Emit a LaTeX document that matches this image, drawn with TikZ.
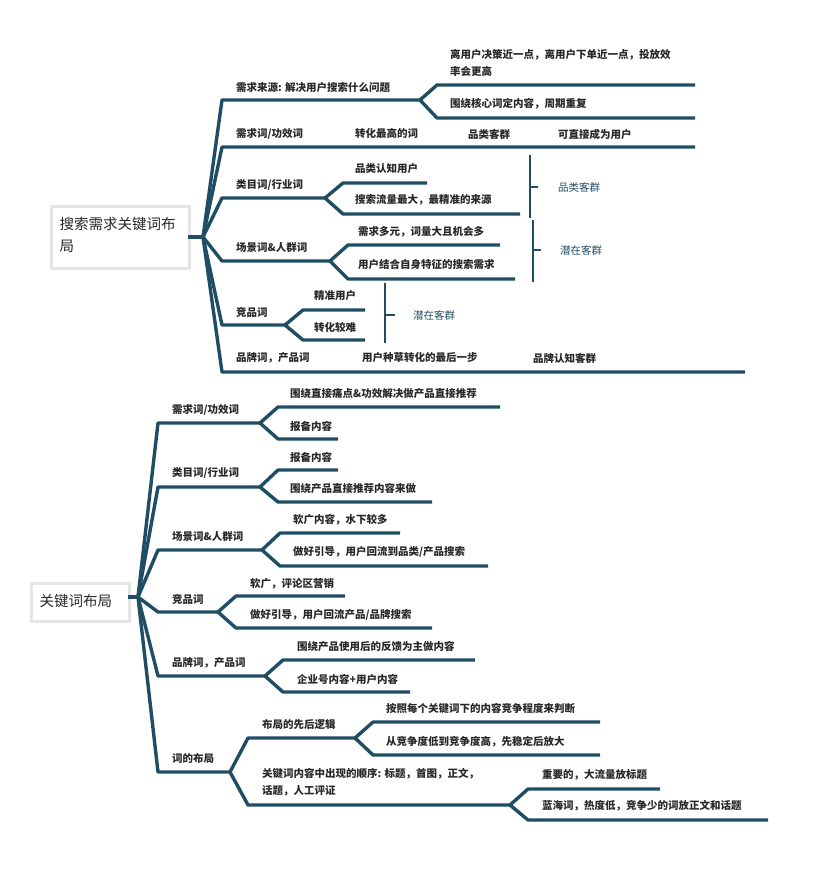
\documentclass[tikz,border=0pt]{standalone}
\usepackage{fontspec}
\setmainfont{Noto Sans CJK SC}
\definecolor{ln}{RGB}{31,77,99}
\definecolor{tx}{RGB}{40,40,40}
\tikzset{ln/.style={draw=ln,line width=3.4pt,line join=round},
 lb/.style={anchor=west,inner sep=0pt,font=\fontsize{10.5}{12}\selectfont\bfseries,text=tx},
 lg/.style={anchor=west,inner sep=0pt,font=\fontsize{10.5}{12}\selectfont,text=ln},
 br/.style={draw=ln,line width=1.6pt},
 rootbox/.style={draw=black!10,line width=3pt,fill=white,anchor=north west,inner sep=0pt}}
\newcommand\cn[6]{\draw[ln] (#1,#2) -- (#3,#2+#4) -- (#3,#5) -- (#6,#5);}
\newcommand\mb[5]{\draw[ln] (#1,#2) -- (#3,#4) -- (#5,#4);}
\begin{document}
\begin{tikzpicture}[x=1pt,y=-1pt]
\useasboundingbox (0,0) rectangle (814,869);
% ---------- top map ----------
\node[rootbox,minimum width=138pt,minimum height=62pt] (r1) at (50,205) {};
\node[anchor=north west,align=left,font=\fontsize{14.5}{22}\selectfont,text=tx] (r1t) at (56,214) {搜索需求关键词布\\局};
\draw[ln] (188,237) -- (203,237);
\mb{203}{237}{222}{100}{420}
\mb{203}{237}{222}{147}{695}
\mb{203}{237}{222}{198}{325}
\mb{203}{237}{222}{261}{330}
\mb{203}{237}{222}{325}{285}
\mb{203}{237}{222}{372}{745}
\node[lb] (a1) at (236,88) {需求来源: 解决用户搜索什么问题};
\cn{420}{100}{437}{-15}{85}{695}
\cn{420}{100}{437}{18}{118}{695}
\node[lb,align=left,font=\fontsize{10.5}{17}\selectfont\bfseries] (a11) at (450,63) {离用户决策近一点，离用户下单近一点，投放效\\率会更高};
\node[lb] (a12) at (450,104) {围绕核心词定内容，周期重复};
\node[lb] (a2) at (236,134) {需求词/功效词};
\node[lb] (a2b) at (355,134) {转化最高的词};
\node[lb] (a2c) at (468,134) {品类客群};
\node[lb] (a2d) at (558,134) {可直接成为用户};
\node[lb] (a3) at (236,185) {类目词/行业词};
\cn{325}{198}{343}{-15}{183}{427}
\cn{325}{198}{343}{16}{214}{520}
\node[lb] (a31) at (355,169) {品类认知用户};
\node[lb] (a32) at (355,200) {搜索流量最大，最精准的来源};
\draw[br] (530,155) -- (530,218); \draw[br] (530,187) -- (538,187);
\node[lg] (g1) at (558,187) {品类客群};
\node[lb] (a4) at (236,248) {场景词\&人群词};
\cn{330}{261}{348}{-16}{245}{500}
\cn{330}{261}{348}{18}{279}{515}
\node[lb] (a41) at (358,232) {需求多元，词量大且机会多};
\node[lb] (a42) at (358,265) {用户结合自身特征的搜索需求};
\draw[br] (533,220) -- (533,282); \draw[br] (533,250) -- (541,250);
\node[lg] (g2) at (560,250) {潜在客群};
\node[lb] (a5) at (236,312) {竞品词};
\cn{285}{325}{303}{-15}{310}{365}
\cn{285}{325}{303}{15}{340}{365}
\node[lb] (a51) at (314,296) {精准用户};
\node[lb] (a52) at (314,327) {转化较难};
\draw[br] (385,283) -- (385,343); \draw[br] (385,315) -- (395,315);
\node[lg] (g3) at (413,315) {潜在客群};
\node[lb] (a6) at (236,358) {品牌词，产品词};
\node[lb] (a6b) at (362,358) {用户种草转化的最后一步};
\node[lb] (a6c) at (533,358) {品牌认知客群};
% ---------- bottom map ----------
\node[rootbox,minimum width=98pt,minimum height=38pt] (r2) at (30,582) {};
\node[anchor=west,font=\fontsize{14.5}{18}\selectfont,text=tx] (r2t) at (36,601) {关键词布局};
\draw[ln] (128,597) -- (138,597);
\mb{138}{597}{158}{423}{260}
\mb{138}{597}{158}{487}{260}
\mb{138}{597}{158}{550}{262}
\mb{138}{597}{158}{612}{218}
\mb{138}{597}{158}{676}{265}
\mb{138}{597}{158}{772}{230}
\node[lb] (b1) at (172,410) {需求词/功效词};
\cn{260}{423}{278}{-16}{407}{500}
\cn{260}{423}{278}{16}{439}{338}
\node[lb] (b11) at (290,394) {围绕直接痛点\&功效解决做产品直接推荐};
\node[lb] (b12) at (290,426) {报备内容};
\node[lb] (b2) at (172,473) {类目词/行业词};
\cn{260}{487}{278}{-17}{470}{338}
\cn{260}{487}{278}{15}{502}{432}
\node[lb] (b21) at (290,457) {报备内容};
\node[lb] (b22) at (290,489) {围绕产品直接推荐内容来做};
\node[lb] (b3) at (172,536) {场景词\&人群词};
\cn{262}{550}{280}{-17}{533}{400}
\cn{262}{550}{280}{16}{566}{488}
\node[lb] (b31) at (293,520) {软广内容，水下较多};
\node[lb] (b32) at (293,552) {做好引导，用户回流到品类/产品搜索};
\node[lb] (b4) at (172,599) {竞品词};
\cn{218}{612}{236}{-16}{596}{345}
\cn{218}{612}{236}{16}{628}{432}
\node[lb] (b41) at (250,584) {软广，评论区营销};
\node[lb] (b42) at (250,615) {做好引导，用户回流产品/品牌搜索};
\node[lb] (b5) at (172,663) {品牌词，产品词};
\cn{265}{676}{283}{-16}{660}{475}
\cn{265}{676}{283}{16}{692}{410}
\node[lb] (b51) at (297,647) {围绕产品使用后的反馈为主做内容};
\node[lb] (b52) at (297,679) {企业号内容+用户内容};
\node[lb] (b6) at (172,758) {词的布局};
\cn{230}{772}{248}{-34}{738}{355}
\cn{230}{772}{248}{33}{805}{510}
\node[lb] (b61) at (262,725) {布局的先后逻辑};
\node[lb,align=left,font=\fontsize{10.5}{17}\selectfont\bfseries] (b62) at (262,782) {关键词内容中出现的顺序: 标题，首图，正文，\\话题，人工评证};
\cn{355}{738}{373}{-16}{722}{600}
\cn{355}{738}{373}{17}{755}{600}
\node[lb] (b611) at (386,709) {按照每个关键词下的内容竞争程度来判断};
\node[lb] (b612) at (386,742) {从竞争度低到竞争度高，先稳定后放大};
\cn{510}{805}{528}{-16}{789}{660}
\cn{510}{805}{528}{15}{820}{768}
\node[lb] (b621) at (542,775) {重要的，大流量放标题};
\node[lb] (b622) at (542,806) {蓝海词，热度低，竞争少的词放正文和话题};
\end{tikzpicture}
\end{document}
